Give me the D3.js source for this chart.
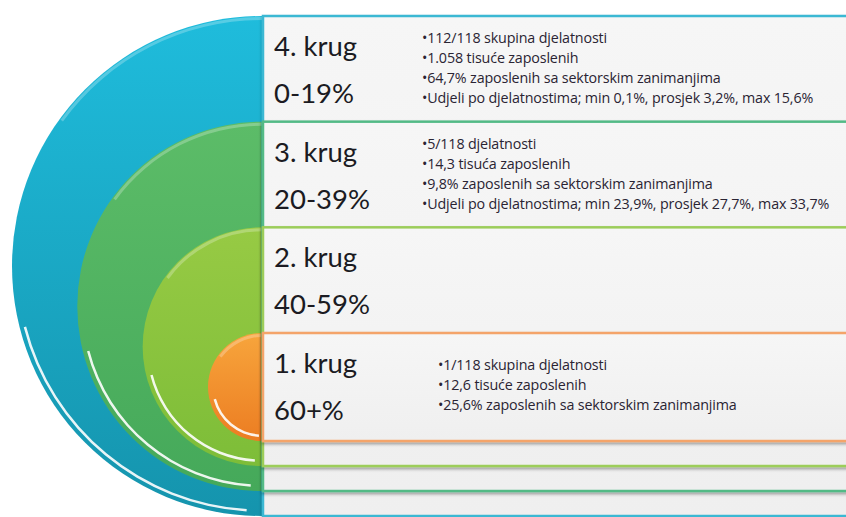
<!doctype html>
<html>
<head>
<meta charset="UTF-8">
<title>Krugovi</title>
<style>
  body { margin: 0; background: #fff; }
  #krugovi { display: block; font-family: Lato, "Open Sans", sans-serif; }
  .label { fill: #1b1b22; font-size: 27.5px; }
  .bullet { fill: #2a2433; font-size: 14.3px; font-family: "Open Sans", sans-serif; letter-spacing: -0.15px; }
</style>
</head>
<body>
<svg id="krugovi" width="846" height="517"></svg>
<script src="https://cdn.jsdelivr.net/npm/d3@7"></script>
<script>
// podaci po krugovima (od vanjskog prema unutarnjem)
var levels = [4, 3, 2, 1];
var names = ["4. krug", "3. krug", "2. krug", "1. krug"];
var ranges = ["0-19%", "20-39%", "40-59%", "60+%"];
var bullets4 = ["112/118 skupina djelatnosti", "1.058  tisuće zaposlenih",
  "64,7% zaposlenih sa sektorskim zanimanjima",
  "Udjeli po djelatnostima; min 0,1%, prosjek 3,2%, max 15,6%"];
var bullets3 = ["5/118 djelatnosti", "14,3 tisuća  zaposlenih",
  "9,8% zaposlenih sa sektorskim zanimanjima",
  "Udjeli po djelatnostima; min 23,9%, prosjek 27,7%, max 33,7%"];
var bullets2 = [];
var bullets1 = ["1/118 skupina djelatnosti", "12,6 tisuće zaposlenih",
  "25,6% zaposlenih sa sektorskim zanimanjima"];
var bulletLists = [bullets4, bullets3, bullets2, bullets1];
var colors = [["#1fbcdc", "#1594ad"], ["#5cbc68", "#45a95a"], ["#97ca44", "#7dbd38"], ["#f7a53c", "#ec7d22"]];
var strokes = ["#3ab8d3", "#52ba86", "#9ccd5a", "#f4a46a"];

var svg = d3.select("#krugovi"),
    width = +svg.attr("width"),
    height = +svg.attr("height");

var flatX = 262;
var radius = d3.scaleLinear().domain([1, 4]).range([54, 250]);
var centerY = d3.scaleLinear().domain([1, 4]).range([387, 266]);

var rows = levels.map(function(l, i) {
  return { level: l, name: names[i], range: ranges[i], bullets: bulletLists[i],
           fill: colors[i], stroke: strokes[i], r: radius(l), cy: centerY(l) };
});

var defs = svg.append("defs");
rows.forEach(function(d, i) {
  var g = defs.append("linearGradient").attr("id", "grad" + i)
    .attr("x1", 0).attr("y1", 0).attr("x2", 0).attr("y2", 1);
  g.append("stop").attr("offset", "0%").attr("stop-color", d.fill[0]);
  g.append("stop").attr("offset", "100%").attr("stop-color", d.fill[1]);
});
var boxGrad = defs.append("linearGradient").attr("id", "boxGrad")
  .attr("x1", 0).attr("y1", 0).attr("x2", 0).attr("y2", 1);
boxGrad.append("stop").attr("offset", "0%").attr("stop-color", "#f6f6f6");
boxGrad.append("stop").attr("offset", "100%").attr("stop-color", "#efefef");
var shadow = defs.append("filter").attr("id", "shadow")
  .attr("x", "-5%").attr("y", "-5%").attr("width", "110%").attr("height", "120%");
shadow.append("feDropShadow").attr("dx", 0).attr("dy", 2)
  .attr("stdDeviation", 1.5).attr("flood-color", "#000").attr("flood-opacity", 0.35);
var blur = defs.append("filter").attr("id", "soft")
  .attr("x", "-10%").attr("y", "-10%").attr("width", "120%").attr("height", "120%");
blur.append("feGaussianBlur").attr("stdDeviation", 0.7);

// polukrugovi
var arc = d3.arc();
var halves = svg.append("g").selectAll("g.half")
  .data(rows).enter().append("g").attr("class", "half")
  .attr("transform", function(d) { return "translate(" + flatX + "," + d.cy + ")"; });

halves.append("path")
  .attr("d", function(d) {
    return arc({ innerRadius: 0, outerRadius: d.r, startAngle: Math.PI, endAngle: 2 * Math.PI });
  })
  .style("fill", function(d, i) { return "url(#grad" + i + ")"; });

// sjajni rub dolje lijevo
halves.append("path")
  .attr("filter", "url(#soft)")
  .attr("d", function(d) {
    return arc({ innerRadius: d.r - 6.5, outerRadius: d.r - 4, startAngle: Math.PI * 1.02, endAngle: Math.PI * 1.42 });
  })
  .style("fill", "#fff").style("opacity", 0.9);
// svjetliji rub gore
halves.append("path")
  .attr("filter", "url(#soft)")
  .attr("d", function(d) {
    return arc({ innerRadius: d.r - 4, outerRadius: d.r - 1, startAngle: Math.PI * 1.7, endAngle: Math.PI * 2 });
  })
  .style("fill", "#fff").style("opacity", 0.25);

// pravokutnici s tekstom
var boxes = svg.append("g").selectAll("g.box")
  .data(rows).enter().append("g").attr("class", "box");

boxes.append("rect")
  .attr("x", flatX + 1)
  .attr("y", function(d) { return d.cy - d.r; })
  .attr("width", width)
  .attr("height", function(d) { return 2 * d.r; })
  .attr("filter", "url(#shadow)")
  .style("fill", "url(#boxGrad)")
  .style("stroke", function(d) { return d.stroke; })
  .style("stroke-width", 2.5);

boxes.append("text")
  .attr("class", "label")
  .attr("x", 274)
  .attr("y", function(d) { return d.cy - d.r + 40; })
  .text(function(d) { return d.name; });

boxes.append("text")
  .attr("class", "label")
  .attr("x", 274)
  .attr("y", function(d) { return d.cy - d.r + 87; })
  .text(function(d) { return d.range; });

boxes.each(function(d) {
  var n = d.bullets.length;
  var bx = d.level === 1 ? 438 : 422;
  var y0 = d.cy - d.r + 57 - (n - 1) * 10;
  d3.select(this).selectAll("text.bullet")
    .data(d.bullets).enter().append("text")
    .attr("class", "bullet")
    .attr("x", bx)
    .attr("y", function(t, j) { return y0 + j * 20; })
    .text(function(t) { return "•" + t; });
});
</script>
</body>
</html>
